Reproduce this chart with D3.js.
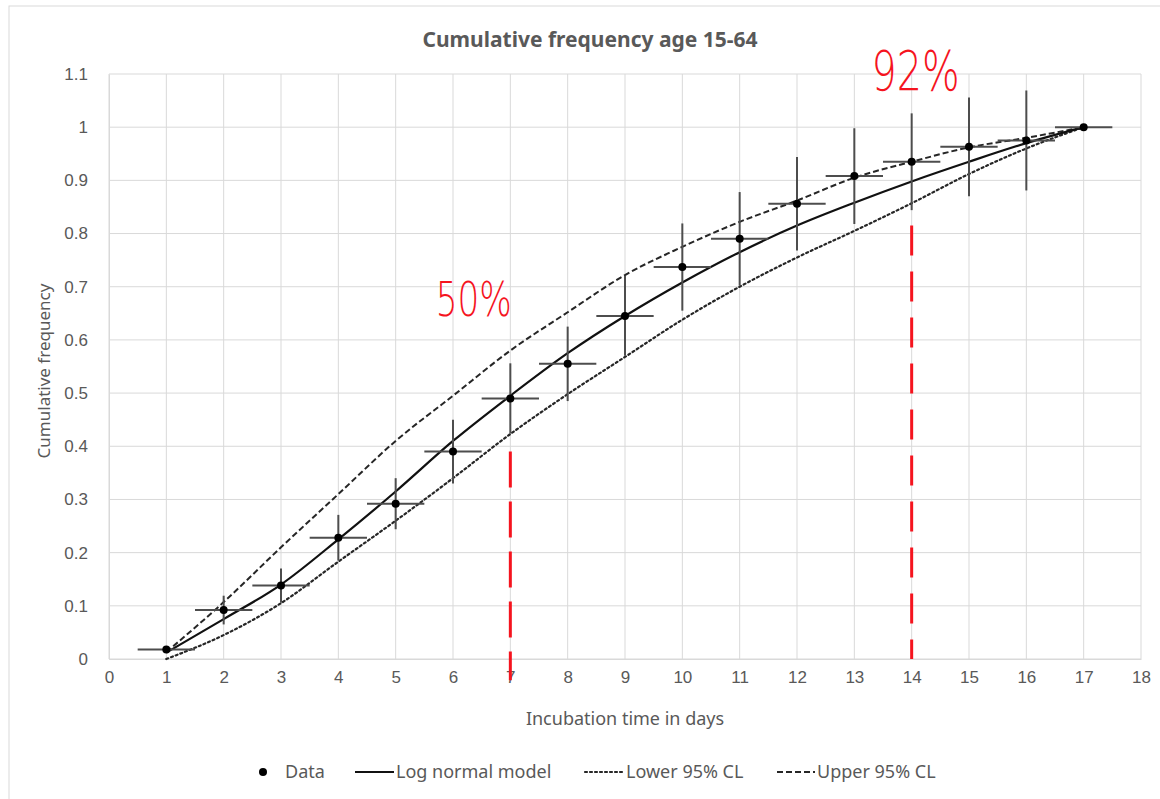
<!DOCTYPE html>
<html>
<head>
<meta charset="utf-8">
<script src="https://cdn.jsdelivr.net/npm/d3@7"></script>
<style>
  body { margin: 0; background: #fff; }
  svg { display: block; font-family: "Noto Sans", "Open Sans", sans-serif; }
  .tick text { fill: #595959; font-size: 17px; }
</style>
</head>
<body>
<svg id="chart" width="1160" height="799"></svg>
<script>
// values
var days = [1, 2, 3, 4, 5, 6, 7, 8, 9, 10, 11, 12, 13, 14, 15, 16, 17];
var observed = [0.018, 0.092, 0.138, 0.228, 0.292, 0.39, 0.49, 0.555, 0.645, 0.737, 0.79, 0.856, 0.908, 0.935, 0.963, 0.975, 1.0];
var errDays = 0.5;
var errFreq = [0.0, 0.027, 0.032, 0.043, 0.048, 0.06, 0.066, 0.07, 0.075, 0.082, 0.088, 0.088, 0.09, 0.091, 0.093, 0.094, 0.0];
var model = [0.012, 0.075, 0.14, 0.225, 0.315, 0.41, 0.495, 0.575, 0.645, 0.708, 0.765, 0.815, 0.858, 0.898, 0.935, 0.97, 1.0];
var lower = [0.0, 0.045, 0.105, 0.183, 0.26, 0.34, 0.423, 0.498, 0.568, 0.638, 0.7, 0.755, 0.805, 0.857, 0.912, 0.96, 1.0];
var upper = [0.013, 0.107, 0.21, 0.31, 0.41, 0.495, 0.58, 0.652, 0.722, 0.775, 0.822, 0.862, 0.905, 0.935, 0.962, 0.98, 1.0];
var xTicks = d3.range(0, 19);
var yTicks = [0, 0.1, 0.2, 0.3, 0.4, 0.5, 0.6, 0.7, 0.8, 0.9, 1, 1.1];

// hand drawn notes
var noteDays = [7, 14];
var noteFrom = [0.39, 0.815];
var noteTo = [-0.04, 0.0];
var noteText = ["50%", "92%"];

var svg = d3.select("#chart");

// outer frame
svg.append("rect")
  .attr("x", 9).attr("y", 6)
  .attr("width", 1200).attr("height", 830)
  .attr("fill", "#fff")
  .attr("stroke", "#d9d9d9");

var xScale = d3.scaleLinear().domain([0, 18]).range([109, 1141]);
var yScale = d3.scaleLinear().domain([0, 1.1]).range([659, 74]);

// grid
svg.append("g")
  .selectAll("line")
  .data(xTicks)
  .enter()
  .append("line")
    .attr("x1", d => xScale(d)).attr("x2", d => xScale(d))
    .attr("y1", yScale(0)).attr("y2", yScale(1.1))
    .attr("stroke", "#d9d9d9").attr("stroke-width", 1);
svg.append("g")
  .selectAll("line")
  .data(yTicks)
  .enter()
  .append("line")
    .attr("x1", xScale(0)).attr("x2", xScale(18))
    .attr("y1", d => yScale(d)).attr("y2", d => yScale(d))
    .attr("stroke", "#d9d9d9").attr("stroke-width", 1);

// axes
var xAxis = d3.axisBottom(xScale).tickValues(xTicks).tickSize(0).tickPadding(12).tickFormat(d3.format("d"));
var yAxis = d3.axisLeft(yScale).tickValues(yTicks).tickSize(0).tickPadding(21).tickFormat(d => d3.format("")(+d.toFixed(1)));

svg.append("g")
  .attr("transform", "translate(0," + yScale(0) + ")")
  .call(xAxis)
  .call(g => g.select(".domain").attr("stroke", "#d9d9d9"));
svg.append("g")
  .attr("transform", "translate(" + xScale(0) + ",0)")
  .call(yAxis)
  .call(g => g.select(".domain").attr("stroke", "#d9d9d9"));

// titles
svg.append("text")
  .attr("x", 590).attr("y", 47)
  .attr("text-anchor", "middle")
  .attr("fill", "#595959")
  .attr("font-size", 21).attr("font-weight", "bold")
  .text("Cumulative frequency age 15-64");
svg.append("text")
  .attr("x", 625).attr("y", 725)
  .attr("text-anchor", "middle")
  .attr("fill", "#595959")
  .attr("font-size", 18)
  .text("Incubation time in days");
svg.append("text")
  .attr("transform", "translate(50,371) rotate(-90)")
  .attr("text-anchor", "middle")
  .attr("fill", "#595959")
  .attr("font-size", 17)
  .text("Cumulative frequency");

// curves
function curve(vals) {
  return d3.line()
    .x((d, i) => xScale(days[i]))
    .y(d => yScale(d))
    .curve(d3.curveMonotoneX)(vals);
}
svg.append("path").attr("d", curve(lower))
  .attr("fill", "none").attr("stroke", "#262626").attr("stroke-width", 2.2)
  .attr("stroke-dasharray", "2,3").attr("stroke-linecap", "round");
svg.append("path").attr("d", curve(upper))
  .attr("fill", "none").attr("stroke", "#262626").attr("stroke-width", 2)
  .attr("stroke-dasharray", "6,3");
svg.append("path").attr("d", curve(model))
  .attr("fill", "none").attr("stroke", "#111").attr("stroke-width", 2.2);

// error bars
var pts = days.map((d, i) => ({ day: d, val: observed[i], err: errFreq[i] }));
svg.append("g").selectAll("line")
  .data(pts)
  .enter()
  .append("line")
    .attr("x1", d => xScale(d.day - errDays)).attr("x2", d => xScale(d.day + errDays))
    .attr("y1", d => yScale(d.val)).attr("y2", d => yScale(d.val))
    .attr("stroke", "#4d4d4d").attr("stroke-width", 2);
svg.append("g").selectAll("line")
  .data(pts.filter(d => d.err > 0))
  .enter()
  .append("line")
    .attr("x1", d => xScale(d.day)).attr("x2", d => xScale(d.day))
    .attr("y1", d => yScale(d.val - d.err)).attr("y2", d => yScale(d.val + d.err))
    .attr("stroke", "#4d4d4d").attr("stroke-width", 2);
svg.append("g").selectAll("circle")
  .data(pts)
  .enter()
  .append("circle")
    .attr("cx", d => xScale(d.day)).attr("cy", d => yScale(d.val))
    .attr("r", 4).attr("fill", "#000");

// red notes
noteDays.forEach(function(d, i) {
  svg.append("line")
    .attr("x1", xScale(d)).attr("x2", xScale(d))
    .attr("y1", yScale(noteFrom[i])).attr("y2", yScale(noteTo[i]))
    .attr("stroke", "#f5141e").attr("stroke-width", 3)
    .attr("stroke-dasharray", i == 0 ? "36,14" : "30,16");
});
svg.append("text")
  .attr("x", xScale(5.7)).attr("y", yScale(0.645))
  .attr("fill", "#f5141e").attr("font-size", 48).attr("font-weight", 300)
  .attr("font-family", "DejaVu Sans")
  .attr("textLength", 76).attr("lengthAdjust", "spacingAndGlyphs")
  .text(noteText[0]);
svg.append("text")
  .attr("x", xScale(13.3)).attr("y", yScale(1.07))
  .attr("fill", "#f5141e").attr("font-size", 56).attr("font-weight", 300)
  .attr("font-family", "DejaVu Sans")
  .attr("textLength", 88).attr("lengthAdjust", "spacingAndGlyphs")
  .text(noteText[1]);

// legend
var lg = svg.append("g").attr("transform", "translate(0,772)");
var lgText = { fill: "#595959", size: 18 };
lg.append("circle").attr("cx", 263).attr("cy", 0).attr("r", 4).attr("fill", "#000");
lg.append("text").attr("x", 285).attr("y", 6).attr("fill", lgText.fill).attr("font-size", lgText.size).text("Data");
lg.append("line").attr("x1", 355).attr("x2", 394).attr("y1", 0).attr("y2", 0)
  .attr("stroke", "#111").attr("stroke-width", 2.2);
lg.append("text").attr("x", 396).attr("y", 6).attr("fill", lgText.fill).attr("font-size", lgText.size).text("Log normal model");
lg.append("line").attr("x1", 585).attr("x2", 624).attr("y1", 0).attr("y2", 0)
  .attr("stroke", "#262626").attr("stroke-width", 2.2).attr("stroke-dasharray", "2,3").attr("stroke-linecap", "round");
lg.append("text").attr("x", 626).attr("y", 6).attr("fill", lgText.fill).attr("font-size", lgText.size).text("Lower 95% CL");
lg.append("line").attr("x1", 777).attr("x2", 815).attr("y1", 0).attr("y2", 0)
  .attr("stroke", "#262626").attr("stroke-width", 2).attr("stroke-dasharray", "6,3");
lg.append("text").attr("x", 817).attr("y", 6).attr("fill", lgText.fill).attr("font-size", lgText.size).text("Upper 95% CL");
</script>
</body>
</html>
